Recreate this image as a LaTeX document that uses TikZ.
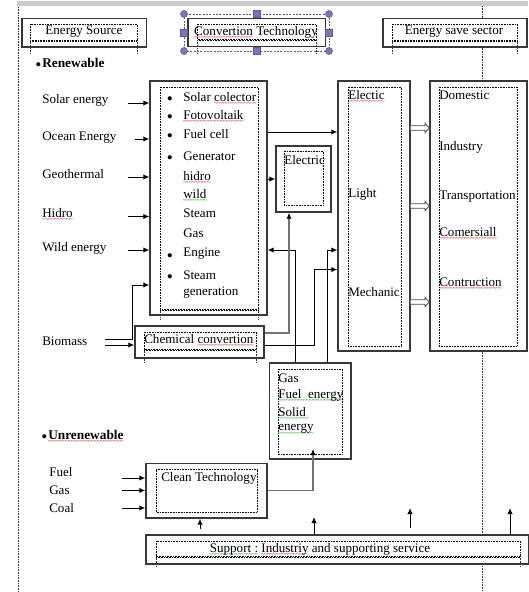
\documentclass[tikz,border=0pt]{standalone}
\usepackage{fontspec}
\setmainfont{Liberation Serif}
\usetikzlibrary{arrows.meta,fit}
\newcommand\fs{\fontsize{9.8}{11}\selectfont}
\newsavebox\wbox
\newcommand\wv[2]{\sbox\wbox{#2}\rlap{\textcolor{#1}{\raisebox{-3.2pt}[0pt][0pt]{\hbox to\wd\wbox{\xleaders\hbox{\fontsize{5}{5}\selectfont\kern-0.3pt\char126\kern-0.3pt}\hfill}}}}\usebox\wbox}
\newcommand\rw[1]{\wv{red!85!black}{#1}}
\newcommand\gw[1]{\wv{green!55!black}{#1}}
\begin{document}
\begin{tikzpicture}[x=0.75pt,y=-0.75pt,
  box/.style={draw=black!78, line width=1.1pt, fill=white, inner sep=0pt},
  dotbox/.style={draw=black, line width=0.45pt, dash pattern=on 0.45pt off 0.75pt},
  dotl/.style={draw=black!80, line width=0.45pt, dash pattern=on 0.45pt off 0.75pt},
  lbl/.style={anchor=west, inner sep=0pt, font=\fs},
  ctr/.style={inner sep=0pt, font=\fs},
  bul/.style={inner sep=0pt, font=\fontsize{13}{13}\selectfont},
  arr/.style={draw=black, line width=0.75pt, -{Latex[length=4.5pt,width=4pt]}},
  garr/.style={draw=black!55, line width=1.1pt, -{Latex[length=4.5pt,width=4pt,black]}},
  selc/.style={draw=blue!30!gray, line width=0.5pt, dash pattern=on 1.5pt off 1pt},
  hdl/.style={fill=blue!25!gray!85, draw=blue!30!gray, line width=0.3pt},
  holl/.style={draw=black!70, line width=0.6pt, fill=white}
]
\useasboundingbox (0,0) rectangle (528,592);
\fill[white] (0,0) rectangle (528,592);
% page furniture
\fill[black!20] (17,1) rectangle (528,6);
\draw[dotl] (18,7) -- (18,592);
\draw[dotl] (482,6) -- (482,592);

% ---------- headers ----------
\node[box, fit={(22,18.5) (146.5,47)}] (h1) {};
\draw[dotbox] (30,24) rectangle (137,40);
\draw[dotbox] (30,41) -- (137,41);
\draw[dotl] (30,40) -- (30,54) (137,40) -- (137,54);
\node[ctr] (h1t) at (84,32) {Energy Source};

\node[box, fit={(188,18.5) (325.5,46.5)}] (h2) {};
\draw[dotbox] (197,24) rectangle (316,39.5);
\draw[dotbox] (197,40.5) -- (316,40.5);
\draw[dotl] (197,40) -- (197,53) (316,40) -- (316,53);
\node[ctr] (h2t) at (256,32) {\rw{Convertion} Technology};
\draw[selc] (184,14) rectangle (329,51);
\foreach \p in {(184,14),(329,14),(184,51),(329,51)} \fill[hdl] \p circle (3.6);
\foreach \p in {(256.5,14),(256.5,51),(184,32.5),(329,32.5)} \draw[hdl] \p ++(-3.4,-3.4) rectangle ++(6.8,6.8);

\node[box, fit={(383,18.5) (527,47)}] (h3) {};
\draw[dotbox] (392,24) rectangle (517,40);
\draw[dotbox] (392,41) -- (517,41);
\draw[dotl] (392,40) -- (392,54) (517,40) -- (517,54);
\node[ctr] (h3t) at (454,32) {Energy save sector};

% ---------- renewable ----------
\node[bul] (renb) at (38.5,66.5) {•};
\node[anchor=west, inner sep=0pt, font=\fontsize{10}{12}\selectfont] (ren) at (42,63) {\textbf{Renewable}};

\node[lbl] (solar) at (42,100) {Solar energy};
\node[lbl] (ocean) at (42,138) {Ocean Energy};
\node[lbl] (geo) at (42,174) {Geothermal};
\node[lbl] (hid) at (42,213) {\rw{Hidro}};
\node[lbl] (wild) at (42,248) {Wild energy};

% box 1
\node[box, fit={(150,81) (267,315)}] (b1) {};
\draw[dotbox] (160,87) rectangle (258,309);
\draw[dotbox] (160,310.5) -- (258,310.5);
\draw[dotl] (160,309) -- (160,319) (258,309) -- (258,319);
\foreach \y/\t/\b in {97/Solar \rw{colector}/1, 115/\rw{Fotovoltaik}/1, 134/Fuel cell/1, 156/Generator/1,
  176/\rw{hidro}/0, 194/\gw{wild}/0, 213/Steam/0, 233/Gas/0, 254/Engine/1, 275/Steam/1, 293/generation/0}
{
  \node[lbl] (it\y) at (183,\y) {\t};
  \ifnum\b=1 \node[bul] (bu\y) at (170,\y+3.5) {•};\fi
}

\foreach \y/\x [count=\i] in {103/128,139/135,177/128,216.5/128,250/128}
{ \coordinate (s\i) at (\x,\y); \draw[arr] (s\i) -- (s\i -| b1.west); }

% electric box
\node[box, fit={(276,146) (331,212)}] (E) {};
\draw[dotbox] (284,151) rectangle (323,205);
\node[lbl] (Et) at (284,160) {Electric};

% box 3 and 4
\node[box, fit={(338,81) (410,351)}] (b3) {};
\draw[dotbox] (348,87) rectangle (401,346);
\node[lbl] (el) at (348,95) {\rw{Electic}};
\node[lbl] (li) at (348,194) {Light};
\node[lbl] (me) at (348,292) {Mechanic};

\node[box, fit={(430,81) (527,351)}] (b4) {};
\draw[dotbox] (439,87) rectangle (517,346);
\node[lbl] (d1) at (439,95) {Domestic};
\node[lbl] (d2) at (439,147) {Industry};
\node[lbl] (d3) at (439,197) {Transportation};
\node[lbl] (d4) at (439,232) {\rw{Comersiall}};
\node[lbl] (d5) at (439,282) {\rw{Contruction}};

\foreach \y in {128,206,302}
  \draw[holl] (b3.east |- 0,\y-2.3) -- (425,\y-2.3) -- (425,\y-4.6) -- (b4.west |- 0,\y) -- (425,\y+4.6) -- (425,\y+2.3) -- (b3.east |- 0,\y+2.3);

\coordinate (k1) at (300,132);
\draw[arr] (k1 -| b1.east) -- (k1 -| b3.west);
\draw[arr] (E.west -| b1.east) -- (E.west);

% chemical convertion
\node[box, fit={(135,326) (264,358)}] (C) {};
\draw[dotbox] (144,332) rectangle (256,349);
\draw[dotbox] (144,350.5) -- (256,350.5);
\draw[dotl] (144,349) -- (144,363) (256,349) -- (256,363);
\node[lbl] (Ct) at (144,339) {Chemical \rw{convertion}};

\node[lbl] (bio) at (42,341) {Biomass};
\coordinate (bm1) at (105,339.5);
\coordinate (bm2) at (105,345);
\coordinate (bmk) at (132,285);
\draw[arr] (bm1) -- (bm1 -| bmk) -- (bmk) -- (bmk -| b1.west);
\draw[arr] (bm2) -- (bm2 -| C.west);

% gas box
\node[box, fit={(269.5,363) (351,459)}] (G) {};
\draw[dotbox] (278,369) rectangle (342,454);
\node[lbl] (g1t) at (278,378) {Gas};
\node[lbl] (g2t) at (278,395) {\gw{Fuel\ \ energy}};
\node[lbl] (g3t) at (278,412) {\gw{Solid\ }};
\node[lbl] (g4t) at (278,429) {\gw{energy}};

\coordinate (g1) at (295,250);
\draw[arr] (g1 |- G.north) -- (g1) -- (g1 -| b1.east);
\coordinate (g2) at (327,250);
\draw[arr] (g2 |- G.north) -- (g2) -- (g2 -| b3.west);
\coordinate (c1) at (314,345);
\coordinate (c1b) at (314,269.5);
\draw[arr] (c1 -| C.east) -- (c1) -- (c1b) -- (c1b -| b3.west);
\coordinate (c2) at (289,333);
\draw[garr] (c2 -| C.east) -- (c2) -- (c2 |- E.south);

% ---------- unrenewable ----------
\node[bul] (unrb) at (44.5,438.5) {•};
\node[anchor=west, inner sep=0pt, font=\fontsize{10}{12}\selectfont] (unr) at (48,435) {\rw{\textbf{Unrenewable}}};

\node[box, fit={(146,463.5) (267,518)}] (CT) {};
\draw[dotbox] (156,469.5) rectangle (257,512);
\node[lbl] (CTt) at (161,478) {Clean Technology};

\node[lbl] (fu) at (49,472) {Fuel};
\node[lbl] (ga) at (49,490) {Gas};
\node[lbl] (co) at (49,508) {Coal};
\foreach \y [count=\i] in {478,490.5,508}
{ \coordinate (u\i) at (122,\y); \draw[arr] (u\i) -- (u\i -| CT.west); }

\coordinate (ct1) at (313,490.5);
\coordinate (ct2) at (313,449);
\draw[garr] (ct1 -| CT.east) -- (ct1) -- (ct2);

% support
\node[box, fit={(146,535) (529,564)}] (S) {};
\draw[dotbox] (156,541) rectangle (520,556);
\draw[dotbox] (156,557.5) -- (520,557.5);
\draw[dotl] (156,556) -- (156,567) (520,556) -- (520,567);
\node[ctr] (St) at (320,549) {\gw{Support :} \rw{Industriy} and supporting service};

\coordinate (a1) at (200,529);
\draw[arr] (a1) -- (a1 |- CT.south);
\coordinate (a2) at (314,517);
\draw[arr] (a2 |- S.north) -- (a2);
\coordinate (a3) at (410,528);
\coordinate (a3b) at (410,508);
\draw[arr] (a3) -- (a3b);
\coordinate (a4) at (510,508);
\draw[arr] (a4 |- S.north) -- (a4);
\end{tikzpicture}
\end{document}
